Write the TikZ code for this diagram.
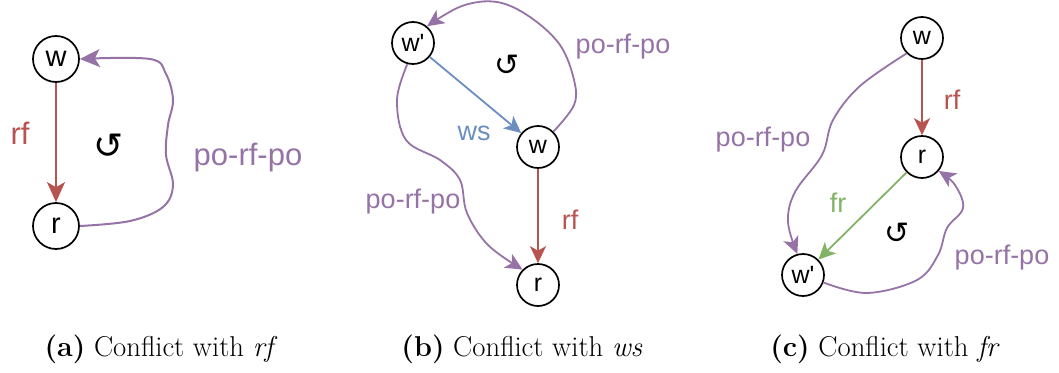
\documentclass[tikz,border=0pt]{standalone}
\usepackage{fontspec}
\newfontfamily\nodefont{Liberation Sans}
\newfontfamily\symfont{DejaVu Sans}
\usetikzlibrary{arrows.meta}
\definecolor{rfred}{HTML}{B85450}
\definecolor{wsblue}{HTML}{6C8EBF}
\definecolor{frgreen}{HTML}{82B366}
\definecolor{popurple}{HTML}{9673A6}
\tikzset{
  ev/.style={circle,draw=black,line width=1.7pt,inner sep=0pt,minimum size=#1,
    font=\nodefont\fontsize{25}{25}\selectfont},
  ev/.default=42pt,
  rel/.style={line width=1.8pt,-{Stealth[length=17pt,width=16pt,inset=4.5pt]}},
  bigrel/.style={line width=2pt,-{Stealth[length=20pt,width=18pt,inset=5pt]}},
  lbl/.style={font=\nodefont\fontsize{27}{27}\selectfont,inner sep=0pt},
  cyc/.style={font=\symfont\fontsize{30}{30}\selectfont,inner sep=0pt},
  capt/.style={inner sep=0pt,scale=1.64},
}
\newcommand\captsize{\fontsize{17.5}{21}\selectfont}
\begin{document}
\begin{tikzpicture}[x=1pt,y=-1pt]
\useasboundingbox (0,0) rectangle (1059,372);

% ---- (a) conflict with rf
\node[ev=46pt,font=\nodefont\fontsize{29}{29}\selectfont] (aw) at (56,59) {w};
\node[ev=46pt,font=\nodefont\fontsize{29}{29}\selectfont] (ar) at (56,226) {r};
\draw[bigrel,rfred] (aw) -- (ar);
\node[lbl,rfred,font=\nodefont\fontsize{31}{31}\selectfont] (arf) at (20,133) {rf};
\node[cyc,font=\symfont\fontsize{36}{36}\selectfont] (acyc) at (109,146) {↺};
\draw[bigrel,popurple] plot[smooth,tension=0.6] coordinates {(ar.east) (130,221) (163,207) (173,185) (166,155) (168,125) (173,100) (166,74) (150,59) (aw.east)};
\node[lbl,popurple,font=\nodefont\fontsize{31}{31}\selectfont] (apo) at (248,157) {po-rf-po};
\node[capt] (acap) at (161,349) {\captsize\textbf{(a)} Conflict with \textit{rf}};

% ---- (b) conflict with ws
\node[ev] (bwp) at (413,43) {w'};
\node[ev] (bw) at (538,147) {w};
\node[ev] (br) at (538,285) {r};
\draw[rel,wsblue] (bwp) -- (bw);
\draw[rel,rfred] (bw) -- (br);
\node[lbl,wsblue] (bws) at (474,133) {ws};
\node[lbl,rfred] (brf) at (570,220) {rf};
\node[cyc] (bcyc) at (507,65) {↺};
\draw[rel,popurple] plot[smooth,tension=0.6] coordinates {(bw.45) (574,105) (574,80) (560,45) (530,17) (497,2) (462,6) (bwp.50)};
\draw[rel,popurple] plot[smooth,tension=0.6] coordinates {(bwp.-105) (397,100) (406,140) (440,160) (460,180) (467,213) (488,245) (br.135)};
\node[lbl,popurple] (bpo1) at (623,47) {po-rf-po};
\node[lbl,popurple] (bpo2) at (413,202) {po-rf-po};
\node[capt] (bcap) at (522,349) {\captsize\textbf{(b)} Conflict with \textit{ws}};

% ---- (c) conflict with fr
\node[ev] (cw) at (922,38) {w};
\node[ev] (cr) at (922,157) {r};
\node[ev] (cwp) at (803,275) {w'};
\draw[rel,rfred] (cw) -- (cr);
\draw[rel,frgreen] (cr.225) -- (cwp.45);
\node[lbl,rfred] (crf) at (952,100) {rf};
\node[lbl,frgreen] (cfr) at (838,203) {fr};
\node[cyc] (ccyc) at (897,233) {↺};
\draw[rel,popurple] plot[smooth,tension=0.6] coordinates {(cw.225) (860,86) (833,120) (822,155) (795,192) (788,222) (cwp.105)};
\draw[rel,popurple] plot[smooth,tension=0.6] coordinates {(cwp.-20) (867,293) (917,280) (938,255) (947,228) (963,208) (955,185) (cr.-40)};
\node[lbl,popurple] (cpo1) at (763,140) {po-rf-po};
\node[lbl,popurple] (cpo2) at (1002,258) {po-rf-po};
\node[capt] (ccap) at (885,349) {\captsize\textbf{(c)} Conflict with \textit{fr}};
\end{tikzpicture}
\end{document}
